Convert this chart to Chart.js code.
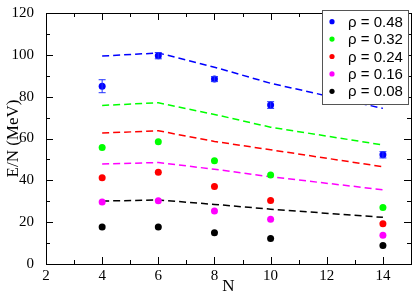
<!DOCTYPE html>
<html>
<head>
<meta charset="utf-8">
<script src="https://cdn.jsdelivr.net/npm/chart.js@4"></script>
<style>
  html, body { margin: 0; padding: 0; background: #fff; }
</style>
</head>
<body>
<canvas id="chart" width="415" height="295"></canvas>
<script>
// sizes N and the two kinds of curves per density
const nValues = [4, 6, 8, 10, 14];
const densityLabels = ['ρ = 0.48', 'ρ = 0.32', 'ρ = 0.24', 'ρ = 0.16', 'ρ = 0.08'];
const colors = ['#0000ff', '#00ff00', '#ff0000', '#ff00ff', '#000000'];

// symbols (with error bars on the top density)
const points048 = [85, 99.6, 88.4, 76, 52.2];
const errors048 = [3.1, 1.5, 1.2, 1.6, 1.5];
const points032 = [55.7, 58.5, 49.4, 42.5, 27];
const points024 = [41.2, 43.9, 37.1, 30.4, 19.2];
const points016 = [29.6, 30.2, 25.3, 21.4, 13.8];
const points008 = [17.7, 17.7, 14.9, 12.2, 8.8];

// dashed curves
const lines048 = [99.4, 100.9, 94.1, 86.4, 74.4];
const lines032 = [75.8, 77.1, 71.5, 65.4, 56.9];
const lines024 = [62.6, 63.7, 58.6, 54.6, 46.5];
const lines016 = [47.8, 48.5, 45.3, 41.7, 35.5];
const lines008 = [30.1, 30.6, 28.5, 26.2, 22.3];

const xTicks = [2, 4, 6, 8, 10, 12, 14];
const yTicks = [0, 20, 40, 60, 80, 100, 120];

const allPoints = [points048, points032, points024, points016, points008];
const allLines = [lines048, lines032, lines024, lines016, lines008];

const toXY = (ys) => ys.map((y, i) => ({ x: nValues[i], y: y }));

const datasets = [];
allLines.forEach((ys, k) => {
  datasets.push({
    label: 'line ' + densityLabels[k],
    data: toXY(ys),
    showLine: true,
    borderColor: colors[k],
    borderWidth: 1.5,
    borderDash: [7, 4],
    pointRadius: 0,
    order: 2
  });
});
allPoints.forEach((ys, k) => {
  datasets.push({
    label: densityLabels[k],
    data: toXY(ys),
    showLine: false,
    backgroundColor: colors[k],
    borderColor: colors[k],
    pointRadius: 3.5,
    pointBorderWidth: 0,
    order: 1
  });
});

// frame, inward ticks on all four sides, error bars and legend box
const framePlugin = {
  id: 'frame',
  afterDatasetsDraw(chart) {
    const { ctx, chartArea: a, scales: { x, y } } = chart;
    ctx.save();

    // error bars for rho = 0.48
    ctx.strokeStyle = '#2233ff';
    ctx.lineWidth = 1;
    nValues.forEach((n, i) => {
      const px = x.getPixelForValue(n);
      const top = y.getPixelForValue(points048[i] + errors048[i]);
      const bot = y.getPixelForValue(points048[i] - errors048[i]);
      ctx.beginPath();
      ctx.moveTo(px, top); ctx.lineTo(px, bot);
      ctx.moveTo(px - 3.5, top); ctx.lineTo(px + 3.5, top);
      ctx.moveTo(px - 3.5, bot); ctx.lineTo(px + 3.5, bot);
      ctx.stroke();
    });

    ctx.strokeStyle = '#000';
    ctx.lineWidth = 1;
    ctx.strokeRect(Math.round(a.left) + 0.5, Math.round(a.top) + 0.5,
      Math.round(a.right - a.left), Math.round(a.bottom - a.top));

    ctx.beginPath();
    for (let v = 2; v <= 15; v += 1) {
      const px = Math.round(x.getPixelForValue(v)) + 0.5;
      const len = v % 2 === 0 ? 7 : 4;
      ctx.moveTo(px, a.bottom); ctx.lineTo(px, a.bottom - len);
      ctx.moveTo(px, a.top); ctx.lineTo(px, a.top + len);
    }
    for (let v = 0; v <= 120; v += 10) {
      const py = Math.round(y.getPixelForValue(v)) + 0.5;
      const len = v % 20 === 0 ? 7 : 4;
      ctx.moveTo(a.left, py); ctx.lineTo(a.left + len, py);
      ctx.moveTo(a.right, py); ctx.lineTo(a.right - len, py);
    }
    ctx.stroke();

    // legend
    const lx = 322, ly = 10, lw = 86, lh = 94;
    ctx.fillStyle = '#fff';
    ctx.fillRect(lx, ly, lw, lh);
    ctx.strokeStyle = '#555';
    ctx.strokeRect(lx + 0.5, ly + 0.5, lw, lh);
    ctx.font = '15px "Liberation Sans", Arial, sans-serif';
    ctx.textBaseline = 'middle';
    densityLabels.forEach((label, k) => {
      const rowY = 21.7 + k * 17.4;
      ctx.fillStyle = colors[k];
      ctx.beginPath();
      ctx.arc(332, rowY, 2.6, 0, Math.PI * 2);
      ctx.fill();
      ctx.fillStyle = '#000';
      ctx.fillText(label, 348, rowY + 1);
    });
    ctx.restore();
  }
};

const serif = '"Liberation Serif", "Times New Roman", serif';

new Chart(document.getElementById('chart'), {
  type: 'scatter',
  data: { datasets },
  options: {
    responsive: false,
    animation: false,
    layout: { padding: { top: 6, right: 1, left: 0, bottom: 0 } },
    plugins: { legend: { display: false }, tooltip: { enabled: false } },
    scales: {
      x: {
        type: 'linear',
        min: 2,
        max: 15,
        grid: { display: false },
        border: { display: false },
        afterBuildTicks: (scale) => { scale.ticks = xTicks.map(v => ({ value: v })); },
        afterFit: (scale) => { scale.height = 31; },
        ticks: { color: '#000', padding: -5, font: { family: serif, size: 15 } },
        title: {
          display: true,
          text: 'N',
          color: '#000',
          padding: 0,
          font: { family: serif, size: 17, lineHeight: 1 }
        }
      },
      y: {
        type: 'linear',
        min: 0,
        max: 120,
        grid: { display: false },
        border: { display: false },
        afterBuildTicks: (scale) => { scale.ticks = yTicks.map(v => ({ value: v })); },
        afterFit: (scale) => { scale.width = 46; },
        ticks: { color: '#000', padding: 4, font: { family: serif, size: 15 } },
        title: {
          display: true,
          text: 'E/N (MeV)',
          color: '#000',
          padding: { top: 5.5, bottom: 0 },
          font: { family: serif, size: 17, lineHeight: 1 }
        }
      }
    }
  },
  plugins: [framePlugin]
});
</script>
</body>
</html>
